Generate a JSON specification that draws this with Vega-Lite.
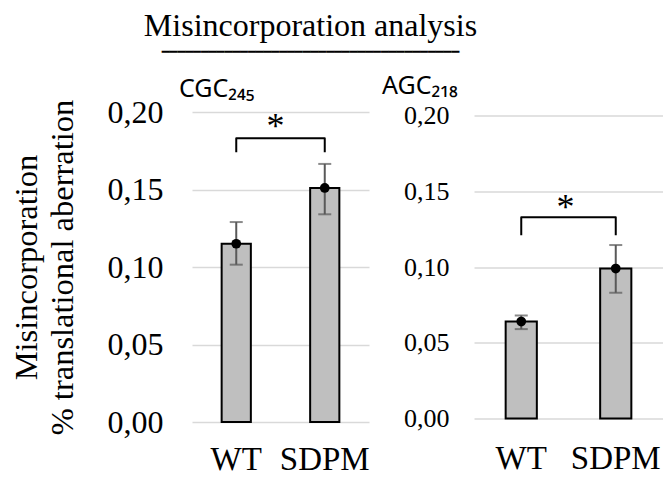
{
  "$schema": "https://vega.github.io/schema/vega-lite/v6.json",
  "background": "white",
  "padding": {"left": 10, "top": 10, "right": 0, "bottom": 0},
  "title": {
    "text": "Misincorporation analysis",
    "subtitle": "     ━━━━━━━━━━━━━━━━━━━━━━━━━━━━━━━━━━━━━━",
    "font": "Liberation Serif",
    "fontSize": 32,
    "fontWeight": "normal",
    "color": "black",
    "subtitleFont": "DejaVu Sans",
    "subtitleFontSize": 13,
    "subtitleColor": "black",
    "subtitlePadding": 3,
    "anchor": "middle",
    "frame": "bounds",
    "dx": -26,
    "offset": 14
  },
  "datasets": {
    "bars": [
      {"panel": "CGC", "group": "WT", "mean": 0.115, "lo": 0.1015, "hi": 0.129},
      {"panel": "CGC", "group": "SDPM", "mean": 0.151, "lo": 0.134, "hi": 0.1665},
      {"panel": "AGC", "group": "WT", "mean": 0.064, "lo": 0.059, "hi": 0.068},
      {"panel": "AGC", "group": "SDPM", "mean": 0.099, "lo": 0.083, "hi": 0.1145}
    ],
    "brackets": [
      {"panel": "CGC", "group": "WT", "y": 0.174, "o": 1},
      {"panel": "CGC", "group": "WT", "y": 0.183, "o": 2},
      {"panel": "CGC", "group": "SDPM", "y": 0.183, "o": 3},
      {"panel": "CGC", "group": "SDPM", "y": 0.174, "o": 4},
      {"panel": "AGC", "group": "WT", "y": 0.121, "o": 1},
      {"panel": "AGC", "group": "WT", "y": 0.1328, "o": 2},
      {"panel": "AGC", "group": "SDPM", "y": 0.1328, "o": 3},
      {"panel": "AGC", "group": "SDPM", "y": 0.121, "o": 4}
    ],
    "stars": [
      {"panel": "CGC", "from": "WT", "y": 0.1904, "label": "*"},
      {"panel": "AGC", "from": "WT", "y": 0.139, "label": "*"}
    ]
  },
  "spacing": 105,
  "bounds": "flush",
  "center": true,
  "hconcat": [
    {
      "width": 177,
      "height": 310,
      "title": {"text": "CGC₂₄₅", "font": "Liberation Sans Narrow, Noto Sans", "fontSize": 25, "fontWeight": "normal", "color": "black", "anchor": "start", "frame": "group", "dx": -13, "offset": -6},
      "layer": [
        {
          "data": {"name": "bars"},
          "transform": [{"filter": "datum.panel === 'CGC'"}],
          "mark": {"type": "bar", "fill": "#bfbfbf", "stroke": "black", "strokeWidth": 2, "width": {"band": 0.33}},
          "encoding": {
            "x": {"field": "group", "type": "nominal", "title": null,
              "scale": {"domain": ["WT", "SDPM"], "paddingInner": 0, "paddingOuter": 0},
              "axis": {"labelFont": "Liberation Serif", "labelFontSize": 33, "labelColor": "black", "labelAngle": 0, "labelPadding": 21, "ticks": false, "domain": false, "grid": false}},
            "y": {"field": "mean", "type": "quantitative", "title": ["Misincorporation", "% translational aberration"],
              "scale": {"domain": [0, 0.2]},
              "axis": {"values": [0, 0.05, 0.1, 0.15, 0.2], "labelExpr": "replace(format(datum.value, '.2f'), '.', ',')",
                "labelFont": "Liberation Serif", "labelFontSize": 32, "labelColor": "black", "labelPadding": 29,
                "ticks": false, "domain": false, "grid": true, "gridColor": "#d9d9d9", "gridWidth": 1.5,
                "titleFont": "Liberation Serif", "titleFontSize": 32.5, "titleFontWeight": "normal", "titleColor": "black",
                "titleLineHeight": 36, "titlePadding": 28}}
          }
        },
        {
          "data": {"name": "bars"},
          "transform": [{"filter": "datum.panel === 'CGC'"}],
          "mark": {"type": "errorbar", "ticks": true, "color": "#595959", "thickness": 2, "size": 13},
          "encoding": {
            "x": {"field": "group", "type": "nominal", "title": null},
            "y": {"field": "lo", "type": "quantitative", "title": ["Misincorporation", "% translational aberration"]},
            "y2": {"field": "hi"}
          }
        },
        {
          "data": {"name": "bars"},
          "transform": [{"filter": "datum.panel === 'CGC'"}],
          "mark": {"type": "point", "filled": true, "color": "black", "size": 95, "opacity": 1},
          "encoding": {
            "x": {"field": "group", "type": "nominal", "title": null},
            "y": {"field": "mean", "type": "quantitative", "title": ["Misincorporation", "% translational aberration"]}
          }
        },
        {
          "data": {"name": "brackets"},
          "transform": [{"filter": "datum.panel === 'CGC'"}],
          "mark": {"type": "line", "color": "black", "strokeWidth": 2, "strokeJoin": "round"},
          "encoding": {
            "x": {"field": "group", "type": "nominal", "title": null},
            "y": {"field": "y", "type": "quantitative", "title": ["Misincorporation", "% translational aberration"]},
            "order": {"field": "o"}
          }
        },
        {
          "data": {"name": "stars"},
          "transform": [{"filter": "datum.panel === 'CGC'"}],
          "mark": {"type": "text", "font": "Liberation Serif", "fontSize": 36, "color": "black", "baseline": "middle", "dx": -5},
          "encoding": {
            "x": {"field": "from", "type": "nominal", "title": null, "bandPosition": 1},
            "y": {"field": "y", "type": "quantitative", "title": ["Misincorporation", "% translational aberration"]},
            "text": {"field": "label"}
          }
        }
      ]
    },
    {
      "width": 189,
      "height": 303,
      "title": {"text": "AGC₂₁₈", "font": "Liberation Sans Narrow, Noto Sans", "fontSize": 25, "fontWeight": "normal", "color": "black", "anchor": "start", "frame": "group", "dx": -92, "offset": 3.5},
      "layer": [
        {
          "data": {"name": "bars"},
          "transform": [{"filter": "datum.panel === 'AGC'"}],
          "mark": {"type": "bar", "fill": "#bfbfbf", "stroke": "black", "strokeWidth": 2, "width": {"band": 0.33}},
          "encoding": {
            "x": {"field": "group", "type": "nominal", "title": null,
              "scale": {"domain": ["WT", "SDPM"], "paddingInner": 0, "paddingOuter": 0},
              "axis": {"labelFont": "Liberation Serif", "labelFontSize": 33, "labelColor": "black", "labelAngle": 0, "labelPadding": 24, "ticks": false, "domain": false, "grid": false}},
            "y": {"field": "mean", "type": "quantitative", "title": null,
              "scale": {"domain": [0, 0.2]},
              "axis": {"values": [0, 0.05, 0.1, 0.15, 0.2], "labelExpr": "replace(format(datum.value, '.2f'), '.', ',')",
                "labelFont": "Liberation Serif", "labelFontSize": 26, "labelColor": "black", "labelPadding": 25,
                "ticks": false, "domain": false, "grid": true, "gridColor": "#d9d9d9", "gridWidth": 1.5}}
          }
        },
        {
          "data": {"name": "bars"},
          "transform": [{"filter": "datum.panel === 'AGC'"}],
          "mark": {"type": "errorbar", "ticks": true, "color": "#595959", "thickness": 2, "size": 13},
          "encoding": {
            "x": {"field": "group", "type": "nominal", "title": null},
            "y": {"field": "lo", "type": "quantitative", "title": null},
            "y2": {"field": "hi"}
          }
        },
        {
          "data": {"name": "bars"},
          "transform": [{"filter": "datum.panel === 'AGC'"}],
          "mark": {"type": "point", "filled": true, "color": "black", "size": 95, "opacity": 1},
          "encoding": {
            "x": {"field": "group", "type": "nominal", "title": null},
            "y": {"field": "mean", "type": "quantitative", "title": null}
          }
        },
        {
          "data": {"name": "brackets"},
          "transform": [{"filter": "datum.panel === 'AGC'"}],
          "mark": {"type": "line", "color": "black", "strokeWidth": 2, "strokeJoin": "round"},
          "encoding": {
            "x": {"field": "group", "type": "nominal", "title": null},
            "y": {"field": "y", "type": "quantitative", "title": null},
            "order": {"field": "o"}
          }
        },
        {
          "data": {"name": "stars"},
          "transform": [{"filter": "datum.panel === 'AGC'"}],
          "mark": {"type": "text", "font": "Liberation Serif", "fontSize": 36, "color": "black", "baseline": "middle", "dx": -3},
          "encoding": {
            "x": {"field": "from", "type": "nominal", "title": null, "bandPosition": 1},
            "y": {"field": "y", "type": "quantitative", "title": null},
            "text": {"field": "label"}
          }
        }
      ]
    }
  ],
  "config": {"view": {"stroke": null}}
}
